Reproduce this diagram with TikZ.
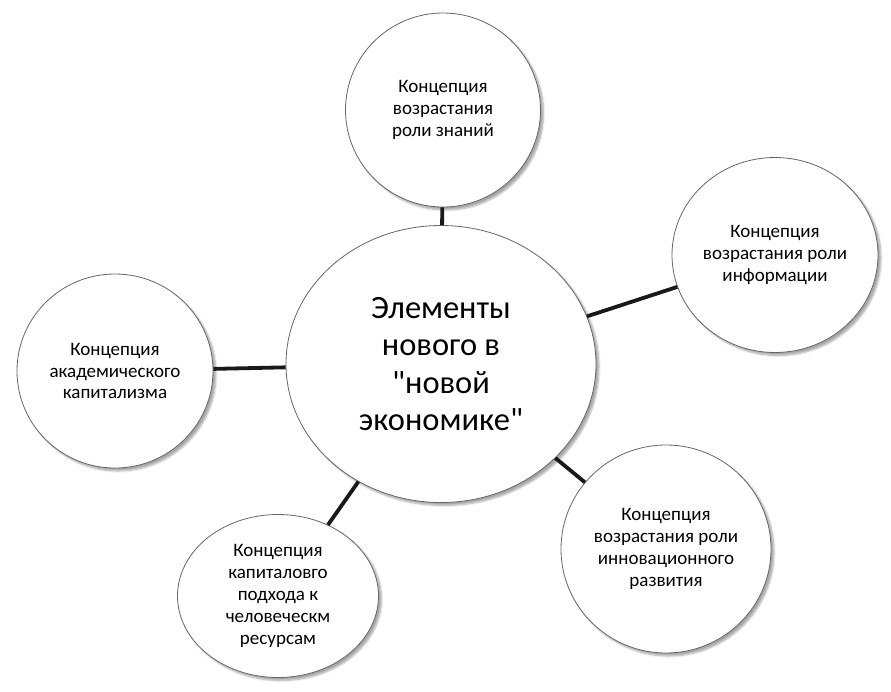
\documentclass[tikz,border=0pt]{standalone}
\usepackage{fontspec}
\setmainfont{Carlito}[Ligatures=TeXOff]
\usetikzlibrary{shapes.geometric,shadows.blur}
\begin{document}
\begin{tikzpicture}[x=1pt,y=-1pt,
  bubble/.style={ellipse,draw=black!60,line width=0.8pt,fill=white,inner sep=0pt,
    align=center,font=\fontsize{19}{21.8}\selectfont,
    blur shadow={shadow xshift=3pt,shadow yshift=-3pt,shadow blur steps=6,shadow opacity=35}},
  link/.style={line width=3.8pt,draw=black!90}]
\useasboundingbox (0,0) rectangle (891,691);
\node[bubble,minimum width=310pt,minimum height=277pt,font=\fontsize{32.5}{37.3}\selectfont] (main) at (441,364) {Элементы\\нового в\\"новой\\экономике"};
\node[bubble,minimum width=195pt,minimum height=194pt] (top) at (443,110) {Концепция\\возрастания\\роли знаний};
\node[bubble,minimum width=206pt,minimum height=195pt] (right) at (775,255) {Концепция\\возрастания роли\\информации};
\node[bubble,minimum width=196pt,minimum height=194pt] (left) at (115,371) {Концепция\\академического\\капитализма};
\node[bubble,minimum width=201pt,minimum height=163pt] (bl) at (278,596) {Концепция\\капиталовго\\подхода к\\человеческм\\ресурсам};
\node[bubble,minimum width=210pt,minimum height=208pt] (br) at (666,549) {Концепция\\возрастания роли\\инновационного\\развития};
\draw[link] (main) -- (top);
\draw[link] (main) -- (right);
\draw[link] (main) -- (left);
\draw[link] (main) -- (bl);
\draw[link] (main) -- (br);
\end{tikzpicture}
\end{document}
